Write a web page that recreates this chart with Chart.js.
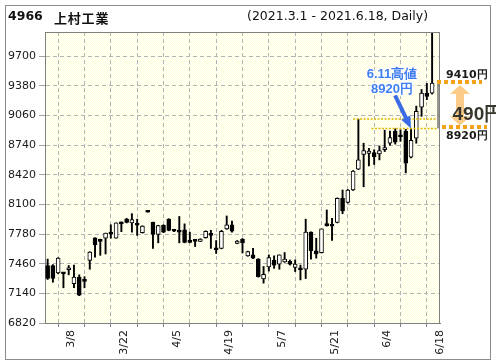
<!DOCTYPE html>
<html>
<head>
<meta charset="utf-8">
<script src="https://cdn.jsdelivr.net/npm/chart.js@4.4.1/dist/chart.umd.min.js"></script>
<style>
  html, body { margin: 0; padding: 0; background: #fff; }
  #wrap { position: relative; width: 496px; height: 364px; overflow: hidden; }
  #frame { position: absolute; left: 5px; top: 5px; width: 484px; height: 353px; border: 1px solid #8c8c8c; }
  #chart { position: absolute; left: 0; top: 0; }
  .txt { position: absolute; white-space: nowrap; line-height: 16px; color: #111; }
  #code { left: 8px; top: 8px; font: bold 12.5px "DejaVu Sans", Verdana, sans-serif; }
  #name { left: 54px; top: 8px; font: bold 13px "Noto Sans CJK JP", sans-serif; letter-spacing: 0.8px; }
  #range { left: 247px; top: 8px; font: 12.5px "DejaVu Sans", Verdana, sans-serif; }
</style>
</head>
<body>
<div id="wrap">
  <div id="frame"></div>
  <canvas id="chart" width="496" height="364"></canvas>
  <div class="txt" id="code">4966</div>
  <div class="txt" id="name">上村工業</div>
  <div class="txt" id="range">(2021.3.1 - 2021.6.18, Daily)</div>
</div>
<script>
// 日足 (3/2 - 6/18)
const opens  = [7440, 7440, 7360, 7365, 7395, 7245, 7315, 7285, 7495, 7740,
                7720, 7735, 7800, 7735, 7905, 7940, 7900, 7895, 7795, 8025,
                7905, 7775, 7875, 7940, 7820, 7815, 7825, 7700, 7710, 7700,
                7740, 7775, 7630, 7625, 7835, 7880, 7680, 7725, 7545, 7555,
                7510, 7295, 7425, 7500, 7455, 7480, 7485, 7420, 7405, 7400,
                7800, 7600, 7580, 7885, 7875, 7905, 8165, 8120, 8255, 8480,
                8640, 8650, 8660, 8645, 8690, 8760, 8890, 8840, 8890, 8610,
                8815, 9150, 9300, 9300];
const highs  = [7510, 7450, 7525, 7365, 7440, 7445, 7340, 7320, 7590, 7740,
                7725, 7790, 7880, 7900, 7910, 7950, 8000, 7940, 7870, 8025,
                7910, 7875, 7880, 7945, 7820, 7970, 7890, 7800, 7710, 7730,
                7815, 7820, 7710, 7820, 7975, 7920, 7710, 7730, 7595, 7625,
                7515, 7430, 7555, 7545, 7555, 7580, 7500, 7500, 7445, 7940,
                7805, 7735, 7835, 8040, 7950, 8170, 8255, 8260, 8465, 9020,
                8760, 8705, 8690, 8730, 8900, 8890, 8915, 8905, 8910, 8920,
                9160, 9340, 9405, 9950];
const lows   = [7290, 7260, 7350, 7200, 7340, 7200, 7115, 7200, 7400, 7530,
                7550, 7565, 7735, 7735, 7805, 7900, 7800, 7765, 7790, 8015,
                7625, 7685, 7795, 7815, 7805, 7685, 7685, 7685, 7645, 7700,
                7735, 7625, 7570, 7620, 7830, 7800, 7675, 7575, 7540, 7515,
                7315, 7250, 7380, 7410, 7400, 7475, 7445, 7375, 7285, 7300,
                7510, 7520, 7575, 7865, 7710, 7900, 8000, 8115, 8250, 8475,
                8290, 8515, 8530, 8580, 8670, 8740, 8750, 8780, 8440, 8600,
                8760, 9050, 9230, 9290];
const closes = [7300, 7300, 7520, 7350, 7405, 7315, 7120, 7270, 7585, 7665,
                7700, 7790, 7780, 7900, 7890, 7905, 7935, 7875, 7865, 8015,
                7775, 7870, 7800, 7820, 7810, 7800, 7690, 7690, 7700, 7725,
                7810, 7765, 7610, 7810, 7880, 7810, 7705, 7685, 7590, 7520,
                7320, 7345, 7525, 7445, 7555, 7510, 7455, 7455, 7395, 7800,
                7600, 7565, 7835, 7870, 7865, 8165, 8030, 8255, 8460, 8580,
                8680, 8675, 8615, 8680, 8705, 8820, 8770, 8830, 8545, 8790,
                9105, 9300, 9265, 9410];

const xTickLabels = ['3/8', '3/22', '4/5', '4/19', '5/7', '5/21', '6/4', '6/18'];
const yTickValues = [6820, 7140, 7460, 7780, 8100, 8420, 8740, 9060, 9380, 9700];

// 注記
const prevHighIdx = 59, prevHigh = 9020;   // 上の点線
const markHighIdx = 69, markHigh = 8920;   // 6.11高値
const lastClose = 9410;
const markText = ['6.11高値', '8920円'];

const bodies = opens.map((o, i) => ({ x: i + 0.5, y: [o, closes[i]] }));
const wicks = highs.map((h, i) => ({ x: i + 0.5, y: [lows[i], h] }));

function checker(ctx) {
  const c = document.createElement('canvas');
  c.width = 2; c.height = 2;
  const g = c.getContext('2d');
  g.fillStyle = '#ffffff'; g.fillRect(0, 0, 2, 2);
  g.fillStyle = '#ffffd8'; g.fillRect(0, 0, 1, 1); g.fillRect(1, 1, 1, 1);
  return ctx.createPattern(c, 'repeat');
}

const plotStyle = {
  id: 'plotStyle',
  beforeDraw(chart) {
    const { ctx, chartArea: a } = chart;
    ctx.save();
    ctx.fillStyle = checker(ctx);
    ctx.fillRect(a.left, a.top, a.right - a.left, a.bottom - a.top);
    ctx.restore();
  },
  afterDraw(chart) {
    const { ctx, chartArea: a, scales: { x, y } } = chart;
    ctx.save();
    // 枠 (上・右)
    ctx.strokeStyle = '#808080';
    ctx.lineWidth = 1;
    ctx.beginPath();
    ctx.moveTo(a.left, a.top + 0.5); ctx.lineTo(a.right, a.top + 0.5);
    ctx.moveTo(a.right - 0.5, a.top); ctx.lineTo(a.right - 0.5, a.bottom);
    ctx.stroke();

    // 黄色の点線
    const yPrev = y.getPixelForValue(prevHigh);
    const yMark = y.getPixelForValue(markHigh);
    const yLast = y.getPixelForValue(lastClose);
    ctx.strokeStyle = '#e2b800';
    ctx.lineWidth = 1.5;
    ctx.setLineDash([2, 1.5]);
    ctx.beginPath();
    ctx.moveTo(x.getPixelForValue(prevHighIdx - 0.5), yPrev);
    ctx.lineTo(a.right - 3, yPrev);
    ctx.moveTo(x.getPixelForValue(markHighIdx - 7), yMark);
    ctx.lineTo(a.right - 3, yMark);
    ctx.stroke();

    // 値幅の縦線
    ctx.setLineDash([]);
    ctx.strokeStyle = '#333';
    ctx.lineWidth = 1;
    ctx.beginPath();
    ctx.moveTo(a.right - 2, yLast);
    ctx.lineTo(a.right - 2, yMark);
    ctx.stroke();

    // オレンジの点線
    ctx.strokeStyle = '#f7a11a';
    ctx.lineWidth = 4;
    ctx.setLineDash([4, 3]);
    ctx.beginPath();
    ctx.moveTo(a.right - 3, yLast - 1); ctx.lineTo(a.right + 42, yLast - 1);
    ctx.moveTo(a.right + 2, yMark - 1.5); ctx.lineTo(a.right + 47, yMark - 1.5);
    ctx.stroke();
    ctx.setLineDash([]);

    // 上下矢印
    const ax = a.right + 20, top = yLast + 2, bot = yMark - 3;
    ctx.fillStyle = 'rgba(247,160,40,0.55)';
    ctx.beginPath();
    ctx.moveTo(ax, top);
    ctx.lineTo(ax + 10, top + 9);
    ctx.lineTo(ax + 4, top + 9);
    ctx.lineTo(ax + 4, bot - 9);
    ctx.lineTo(ax + 10, bot - 9);
    ctx.lineTo(ax, bot);
    ctx.lineTo(ax - 10, bot - 9);
    ctx.lineTo(ax - 4, bot - 9);
    ctx.lineTo(ax - 4, top + 9);
    ctx.lineTo(ax - 10, top + 9);
    ctx.closePath();
    ctx.fill();

    // 右側の文字
    ctx.fillStyle = '#1a1a1a';
    ctx.font = 'bold 11px "DejaVu Sans", Verdana, sans-serif';
    ctx.textAlign = 'left';
    ctx.textBaseline = 'alphabetic';
    ctx.fillText(lastClose + '円', a.right + 6, yLast - 5);
    ctx.fillText(markHigh + '円', a.right + 6, yMark + 11);
    ctx.font = 'bold 19px "Liberation Sans", Arial, sans-serif';
    ctx.fillStyle = '#36362c';
    ctx.fillText((lastClose - markHigh) + '円', a.right + 12.5, yMark - 8);

    // 青い矢印
    const tipX = x.getPixelForValue(markHighIdx + 0.5);
    const tipY = yMark;
    const tailX = tipX - 16, tailY = tipY - 33;
    const ang = Math.atan2(tipY - tailY, tipX - tailX);
    ctx.strokeStyle = '#3a6ae8';
    ctx.fillStyle = '#3a6ae8';
    ctx.lineWidth = 4;
    ctx.beginPath();
    ctx.moveTo(tailX, tailY);
    ctx.lineTo(tipX - 10 * Math.cos(ang), tipY - 10 * Math.sin(ang));
    ctx.stroke();
    ctx.beginPath();
    ctx.moveTo(tipX, tipY);
    ctx.lineTo(tipX - 12 * Math.cos(ang) + 5 * Math.sin(ang), tipY - 12 * Math.sin(ang) - 5 * Math.cos(ang));
    ctx.lineTo(tipX - 12 * Math.cos(ang) - 5 * Math.sin(ang), tipY - 12 * Math.sin(ang) + 5 * Math.cos(ang));
    ctx.closePath();
    ctx.fill();

    // 青い文字
    ctx.font = 'bold 13px "Liberation Sans", Arial, sans-serif';
    ctx.textAlign = 'center';
    ctx.lineJoin = 'round';
    ctx.lineWidth = 3;
    ctx.strokeStyle = 'rgba(255,255,255,0.9)';
    ctx.fillStyle = '#3f7ef2';
    const cx = tailX - 3;
    [tailY - 17.5, tailY - 2].forEach((ty, k) => {
      ctx.strokeText(markText[k], cx, ty);
      ctx.fillText(markText[k], cx, ty);
    });
    ctx.restore();
  }
};

const tickFont = { family: '"DejaVu Sans", Verdana, sans-serif', size: 11 };

new Chart(document.getElementById('chart'), {
  type: 'bar',
  data: {
    datasets: [
      {
        data: bodies,
        barThickness: 4,
        minBarLength: 2,
        borderWidth: 1,
        borderSkipped: false,
        borderColor: '#000',
        backgroundColor: ctx => {
          const i = ctx.dataIndex;
          return closes[i] >= opens[i] ? '#ffffff' : '#000000';
        }
      },
      {
        data: wicks,
        barThickness: 1.25,
        borderWidth: 0,
        backgroundColor: '#000'
      }
    ]
  },
  options: {
    responsive: false,
    animation: false,
    grouped: false,
    layout: { padding: { left: 0, top: 32, right: 56, bottom: 0 } },
    plugins: { legend: { display: false }, tooltip: { enabled: false } },
    scales: {
      x: {
        type: 'linear',
        min: 0,
        max: 75,
        offset: false,
        afterFit: s => { s.height = 41; },
        grid: {
          color: '#b4b4b4',
          tickLength: 4,
          tickColor: '#808080',
          tickBorderDash: []
        },
        border: { display: true, color: '#808080', width: 1, dash: [4, 3] },
        ticks: {
          stepSize: 5,
          autoSkip: false,
          minRotation: 90,
          maxRotation: 90,
          padding: 3,
          color: '#1a1a1a',
          font: tickFont,
          callback: v => {
            const k = (v - 5) / 10;
            return Number.isInteger(k) && k >= 0 && k < xTickLabels.length ? xTickLabels[k] : '';
          }
        }
      },
      y: {
        min: 6820,
        max: 9960,
        afterFit: s => { s.width = 45; },
        afterBuildTicks: s => { s.ticks = yTickValues.map(v => ({ value: v })); },
        grid: {
          color: '#b4b4b4',
          tickLength: 6,
          tickColor: '#a0a0a0',
          tickBorderDash: []
        },
        border: { display: true, color: '#808080', width: 1, dash: [4, 3] },
        ticks: { padding: 3, color: '#1a1a1a', font: tickFont, callback: v => String(v) }
      }
    }
  },
  plugins: [plotStyle]
});
</script>
</body>
</html>
